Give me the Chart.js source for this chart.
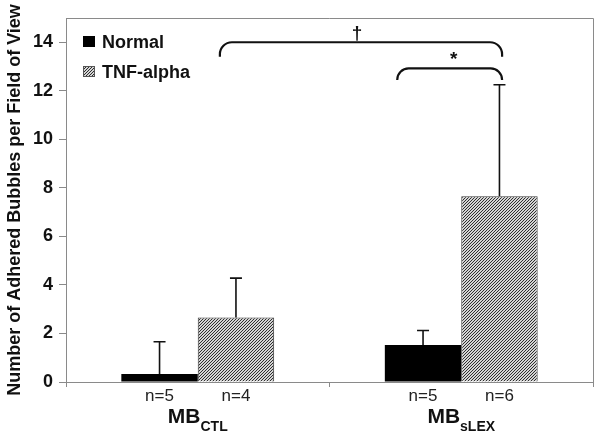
<!DOCTYPE html>
<html><head><meta charset="utf-8">
<script src="https://cdn.jsdelivr.net/npm/chart.js@4/dist/chart.umd.min.js"></script>
<style>html,body{margin:0;padding:0;background:#fff;} #wrap{width:602px;height:441px;position:relative;}</style>
</head><body><div id="wrap"><canvas id="c" width="602" height="441"></canvas></div>
<script>
// ---- data ----
const categoryMain = ['MB', 'MB'];
const categorySub = ['CTL', 'sLEX'];
const seriesNames = ['Normal', 'TNF-alpha'];
const normalMeans = [0.33, 1.52];
const normalSD = [1.33, 0.60];
const tnfMeans = [2.66, 7.65];
const tnfSD = [1.62, 4.60];
const normalN = ['n=5', 'n=5'];
const tnfN = ['n=4', 'n=6'];
const yTicks = [0, 2, 4, 6, 8, 10, 12, 14];
const yTitle = 'Number of Adhered Bubbles per Field of View';
const bracketFrom = [0.084, 0.757];
const bracketTo = [1.155, 1.155];
const bracketTop = [14.0, 12.92];
const bracketEnd = [13.4, 12.45];
const bracketMarks = ['\u2020', '*'];

const FONT = '"Liberation Sans", Arial, Helvetica, sans-serif';

function hatchPattern() {
  const p = document.createElement('canvas');
  p.width = 3; p.height = 3;
  const c = p.getContext('2d');
  c.fillStyle = '#d4d4d4'; c.fillRect(0, 0, 3, 3);
  c.strokeStyle = '#2e2e2e'; c.lineWidth = 1;
  c.beginPath();
  c.moveTo(0, 3); c.lineTo(3, 0);
  c.moveTo(-1, 1); c.lineTo(1, -1);
  c.moveTo(2, 4); c.lineTo(4, 2);
  c.stroke();
  return c.createPattern(p, 'repeat');
}
const hatch = hatchPattern();

const sdByDataset = [normalSD, tnfSD];
const nByDataset = [normalN, tnfN];

const decor = {
  id: 'decor',
  afterDatasetsDraw(chart) {
    const ctx = chart.ctx;
    const ca = chart.chartArea;
    const ys = chart.scales.y, xs = chart.scales.x;
    ctx.save();
    // frame top & right
    ctx.strokeStyle = '#8a8a8a'; ctx.lineWidth = 1;
    ctx.beginPath();
    ctx.moveTo(ca.left, ca.top + 0.5); ctx.lineTo(ca.right + 0.5, ca.top + 0.5);
    ctx.lineTo(ca.right + 0.5, ca.bottom);
    ctx.stroke();

    // error bars
    ctx.strokeStyle = '#111'; ctx.lineWidth = 1.6;
    chart.data.datasets.forEach((ds, di) => {
      const meta = chart.getDatasetMeta(di);
      meta.data.forEach((bar, i) => {
        const top = ys.getPixelForValue(ds.data[i] + sdByDataset[di][i]);
        const base = ys.getPixelForValue(ds.data[i]);
        ctx.beginPath();
        ctx.moveTo(bar.x, base); ctx.lineTo(bar.x, top);
        ctx.moveTo(bar.x - 6, top); ctx.lineTo(bar.x + 6, top);
        ctx.stroke();
        // n labels
        ctx.fillStyle = '#222';
        ctx.font = '17px ' + FONT;
        ctx.textAlign = 'center'; ctx.textBaseline = 'alphabetic';
        ctx.fillText(nByDataset[di][i], bar.x, ca.bottom + 19);
      });
    });

    // category labels with subscripts
    const c0 = xs.getPixelForValue(0), c1 = xs.getPixelForValue(1);
    categoryMain.forEach((m, i) => {
      const cx = xs.getPixelForValue(i);
      ctx.font = 'bold 21px ' + FONT;
      const wm = ctx.measureText(m).width;
      ctx.font = 'bold 14px ' + FONT;
      const ws = ctx.measureText(categorySub[i]).width;
      const x0 = cx - (wm + ws) / 2;
      ctx.fillStyle = '#111';
      ctx.textAlign = 'left'; ctx.textBaseline = 'alphabetic';
      ctx.font = 'bold 21px ' + FONT;
      ctx.fillText(m, x0, ca.bottom + 41);
      ctx.font = 'bold 14px ' + FONT;
      ctx.fillText(categorySub[i], x0 + wm, ca.bottom + 49);
    });

    // significance brackets
    const step = c1 - c0;
    ctx.strokeStyle = '#111'; ctx.lineWidth = 2.2;
    bracketFrom.forEach((f, i) => {
      const x1 = c0 + f * step, x2 = c0 + bracketTo[i] * step;
      const yt = ys.getPixelForValue(bracketTop[i]);
      const ye = ys.getPixelForValue(bracketEnd[i]);
      const r = Math.min(12, ye - yt);
      ctx.beginPath();
      ctx.moveTo(x1, ye);
      ctx.arcTo(x1, yt, x1 + r, yt, r);
      ctx.lineTo(x2 - r, yt);
      ctx.arcTo(x2, yt, x2, ye, r);
      ctx.lineTo(x2, ye);
      ctx.stroke();
      ctx.fillStyle = '#111';
      ctx.textAlign = 'center'; ctx.textBaseline = 'alphabetic';
      ctx.font = 'bold 19px ' + FONT;
      ctx.fillText(bracketMarks[i], (x1 + x2) / 2 + (i === 0 ? -4 : 4), yt - 3);
    });

    // legend
    chart.data.datasets.forEach((ds, di) => {
      const lx = ca.left + 17, ly = ca.top + 18 + di * 30;
      ctx.fillStyle = ds.backgroundColor;
      ctx.fillRect(lx, ly, 12, 11);
      if (di === 1) { ctx.strokeStyle = '#555'; ctx.lineWidth = 1; ctx.strokeRect(lx + 0.5, ly + 0.5, 11, 10); }
      ctx.fillStyle = '#111';
      ctx.font = 'bold 18px ' + FONT;
      ctx.textAlign = 'left'; ctx.textBaseline = 'alphabetic';
      ctx.fillText(ds.label, lx + 19, ly + 12);
    });
    ctx.restore();
  }
};

new Chart(document.getElementById('c'), {
  type: 'bar',
  data: {
    labels: categoryMain.map((m, i) => m + categorySub[i]),
    datasets: [
      { label: seriesNames[0], data: normalMeans, backgroundColor: '#000000', borderWidth: 0 },
      { label: seriesNames[1], data: tnfMeans, backgroundColor: hatch, borderColor: '#3a3a3a', borderWidth: 1 }
    ]
  },
  options: {
    responsive: false,
    animation: false,
    devicePixelRatio: 1,
    layout: { padding: { top: 18, right: 9, left: 0, bottom: 0 } },
    datasets: { bar: { categoryPercentage: 0.58, barPercentage: 1.0 } },
    plugins: { legend: { display: false }, tooltip: { enabled: false } },
    scales: {
      x: {
        grid: { display: true, drawOnChartArea: false, drawTicks: true, tickLength: 5, color: '#8a8a8a', offset: true },
        border: { color: '#8a8a8a' },
        ticks: { display: false },
        afterFit: s => { s.height = 59; }
      },
      y: {
        min: 0, max: 15,
        afterBuildTicks: s => { s.ticks = yTicks.map(v => ({ value: v })); },
        grid: { display: true, drawOnChartArea: false, drawTicks: true, tickLength: 7, color: '#8a8a8a' },
        border: { color: '#8a8a8a' },
        ticks: { color: '#111', padding: 6, font: { family: FONT, size: 18, weight: 'bold' } },
        title: { display: true, text: yTitle, color: '#111', padding: { top: 4, bottom: 0 }, font: { family: FONT, size: 18, weight: 'bold' } },
        afterFit: s => { s.width = 66; }
      }
    }
  },
  plugins: [decor]
});
</script>
</body></html>
